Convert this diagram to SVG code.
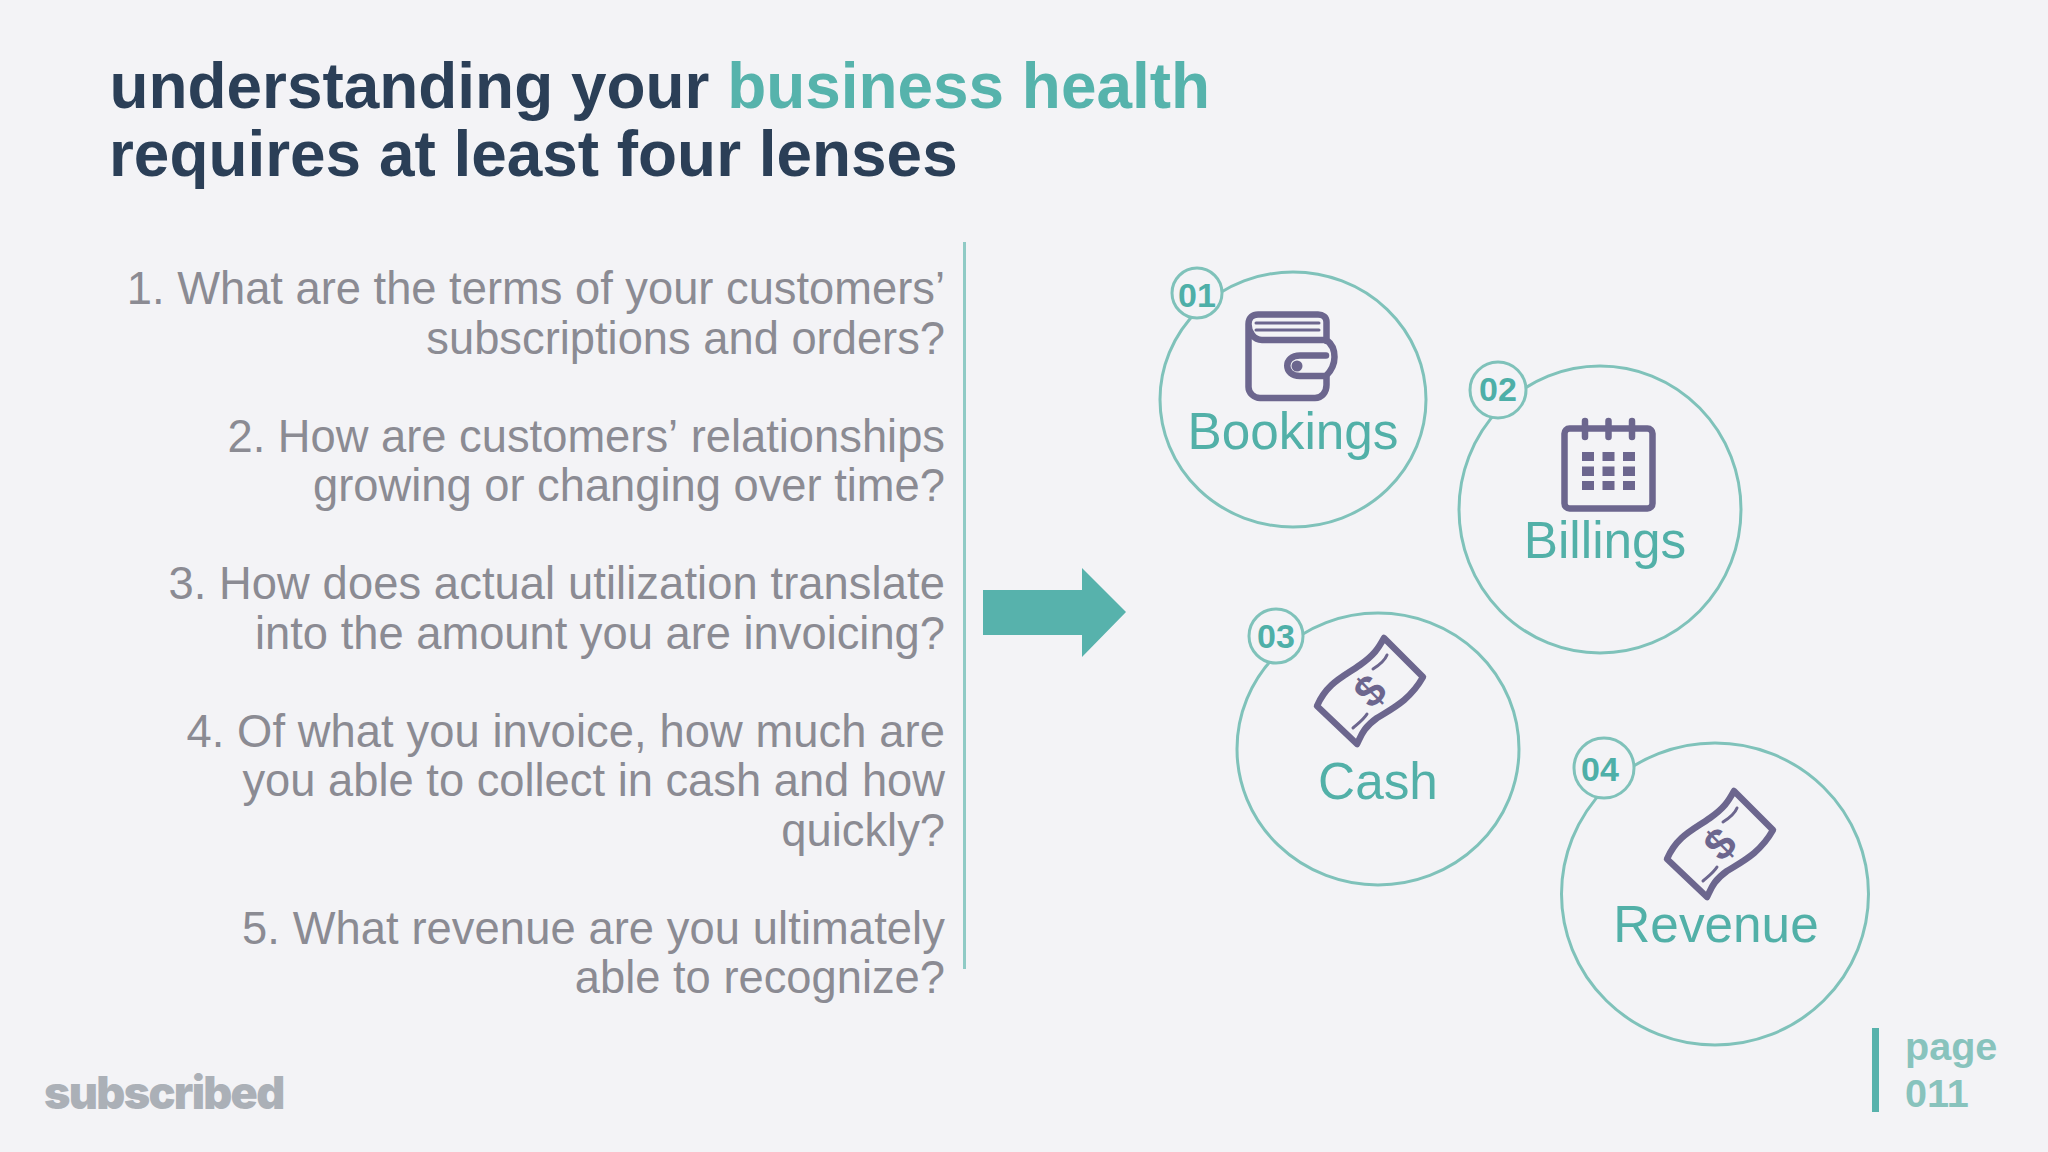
<svg xmlns="http://www.w3.org/2000/svg" width="2048" height="1152" viewBox="0 0 2048 1152">
<style>
text{font-family:"Liberation Sans",Arial,sans-serif}
.title{font-size:63.900px;font-weight:700;fill:#2b3f57}
.accent{fill:#56b3ac}
.body{font-size:45.300px;fill:#8b8b93;text-anchor:end;font-kerning:none}
.wide{letter-spacing:.09px}
.label{font-size:51.300px;fill:#52b0a8;text-anchor:middle}
.num{font-size:34px;font-weight:700;fill:#4eafa8;text-anchor:middle}
.ring{fill:none;stroke:#7fc2ba;stroke-width:3}
.badge{fill:#f3f3f6;stroke:#7fc2ba;stroke-width:3}
.ico{fill:none;stroke:#6c668e;stroke-width:6.500;stroke-linecap:round;stroke-linejoin:round}
.thin{stroke-width:3}
.icof{fill:#6c668e}
.dollar{font-size:44px;font-weight:700;fill:#6c668e;text-anchor:middle}
.page{font-size:39.600px;font-weight:700;fill:#88c3bd}
</style>
<defs>
<g id="bill">
<path class="ico" d="M1317 706C1327 683 1343 677 1360 665C1374 655 1378 649 1384 638L1423 677C1410 700 1393 708 1377 718C1363 728 1361 736 1357 744Z"/>
<path class="ico thin" d="M1373 669C1381 664 1385 660 1387 655M1353 728C1360 722 1364 719 1367 714"/>
</g>
</defs>
<rect width="2048" height="1152" fill="#f3f3f6"/>
<g id="title">
<text class="title" x="109.500" y="107.500">understanding your <tspan class="accent">business health</tspan></text>
<text class="title" x="109" y="176">requires at least four lenses</text>
</g>
<g id="questions">
<text class="body" x="945" y="304">1. What are the terms of your customers’</text>
<text class="body" x="945" y="353.500">subscriptions and orders?</text>
<text class="body" x="945" y="451.500">2. How are customers’ relationships</text>
<text class="body" x="945" y="501">growing or changing over time?</text>
<text class="body wide" x="945" y="599">3. How does actual utilization translate</text>
<text class="body" x="945" y="648.500">into the amount you are invoicing?</text>
<text class="body wide" x="945" y="746.500">4. Of what you invoice, how much are</text>
<text class="body" x="945" y="796">you able to collect in cash and how</text>
<text class="body" x="945" y="845.500">quickly?</text>
<text class="body wide" x="945" y="943.500">5. What revenue are you ultimately</text>
<text class="body" x="945" y="993">able to recognize?</text>
</g>
<g id="connectors">
<rect x="963" y="242" width="3" height="727" fill="#8fcac5"/>
<path d="M983 590H1082V568L1126 612L1082 657V635H983Z" fill="#57b2ac"/>
</g>
<g id="node-bookings">
<ellipse class="ring" cx="1293" cy="399.500" rx="133" ry="127.500"/>
<circle class="badge" cx="1197" cy="293" r="25"/>
<text class="num" x="1197" y="307">01</text>
<path class="ico" d="M1248.500 324C1248.500 317 1253 314.500 1258 314.500H1318C1323 314.500 1326.500 317 1326.500 322V341M1248.500 324V387C1248.500 393 1254 398 1260 398H1315C1322 398 1326.500 392 1326.500 385V376M1248.500 324C1248.500 332 1254 340 1262 340H1326.500M1326.500 340C1332 344 1334.500 350 1334.500 357C1334.500 365 1331 371 1326 376"/>
<path class="ico thin" d="M1256 323H1319M1256 330H1319"/>
<path class="ico" d="M1326 355.500H1300C1283 355.500 1283 376 1300 376H1326"/>
<circle class="icof" cx="1297" cy="366" r="5.500"/>
<text class="label" x="1293" y="448.500">Bookings</text>
</g>
<g id="node-billings">
<ellipse class="ring" cx="1600" cy="509.500" rx="141" ry="143.500"/>
<circle class="badge" cx="1498" cy="390" r="28"/>
<text class="num" x="1498" y="401">02</text>
<rect class="ico" x="1564.500" y="428.500" width="88" height="80" rx="5"/>
<path class="ico" d="M1585 421V437M1608.500 421V437M1632 421V437"/>
<path class="icof" d="M1582 452h12v9h-12zM1602.500 452h12v9h-12zM1623 452h12v9h-12zM1582 466.500h12v9.500h-12zM1602.500 466.500h12v9.500h-12zM1623 466.500h12v9.500h-12zM1582 481h12v9h-12zM1602.500 481h12v9h-12zM1623 481h12v9h-12z"/>
<text class="label" x="1605" y="557.500">Billings</text>
</g>
<g id="node-cash">
<ellipse class="ring" cx="1378" cy="749" rx="141" ry="136"/>
<circle class="badge" cx="1276" cy="636" r="27"/>
<text class="num" x="1276" y="648">03</text>
<use href="#bill"/>
<text class="dollar" transform="translate(1370 691) rotate(-45)" y="15">$</text>
<text class="label" x="1378" y="798.500">Cash</text>
</g>
<g id="node-revenue">
<ellipse class="ring" cx="1715" cy="894" rx="153.500" ry="151"/>
<circle class="badge" cx="1604" cy="768" r="30"/>
<text class="num" x="1600" y="781">04</text>
<use href="#bill" transform="translate(350 153)"/>
<text class="dollar" transform="translate(1720 844) rotate(-45)" y="15">$</text>
<text class="label" x="1716" y="941.500">Revenue</text>
</g>
<g id="logo">
<text x="44" y="1109" style="font-family:Inter,sans-serif;font-size:45px;font-weight:900;letter-spacing:-1.700px;fill:#abb0b7">subscribed</text>
</g>
<g id="page">
<rect x="1872" y="1028" width="7" height="84" fill="#57b2ac"/>
<text class="page" x="1905" y="1060">page</text>
<text class="page" x="1905" y="1107">011</text>
</g>
</svg>
